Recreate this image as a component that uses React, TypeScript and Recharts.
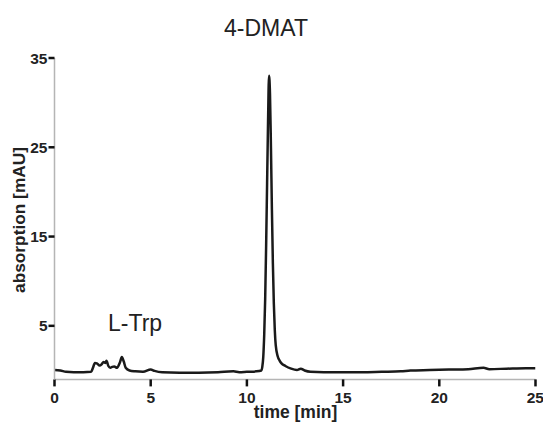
import { LineChart, Line, XAxis, YAxis } from 'recharts'

const FONT = '"Liberation Sans", Arial, sans-serif'

// retention time [min]
const times = [
  0, 0.3, 0.6, 1.0, 1.5, 1.9, 2.0, 2.1, 2.2, 2.35, 2.45, 2.55, 2.65, 2.7, 2.8, 2.9, 3.0, 3.1,
  3.25, 3.4, 3.5, 3.6, 3.7, 3.9, 4.2, 4.6, 5.0, 5.2, 5.6, 6.5, 7.5, 8.5, 9.3, 9.6, 10.0, 10.5,
  10.75, 10.8, 10.85, 10.9, 10.95, 11.0, 11.05, 11.1, 11.15, 11.2, 11.25, 11.3, 11.35, 11.4,
  11.45, 11.5, 11.6, 11.7, 11.8, 12.0, 12.3, 12.6, 12.8, 13.0, 13.3, 14, 15, 16, 17, 18, 18.5,
  19.5, 20.5, 21.5, 22.3, 22.6, 23.5, 24.5, 25,
]

// absorption [mAU]
const absorption = [
  0.05, 0.0, -0.15, -0.2, -0.2, -0.15, 0.3, 0.85, 0.8, 0.55, 0.7, 0.95, 0.85, 1.1, 0.5, 0.3, 0.4, 0.45,
  0.3, 0.9, 1.5, 1.0, 0.3, 0.0, -0.1, -0.15, 0.1, -0.05, -0.2, -0.25, -0.25, -0.2, -0.1, -0.2, -0.15, -0.1,
  0.0, 0.4, 1.5, 4, 8, 14, 21, 28, 33, 31, 25, 18, 12, 7.5,
  4.5, 2.8, 1.6, 1.1, 0.8, 0.5, 0.2, 0.05, 0.2, 0.0, -0.15, -0.2, -0.2, -0.2, -0.15, -0.1, 0.0,
  0.05, 0.1, 0.15, 0.3, 0.15, 0.2, 0.25, 0.25,
]

const xTicks = [0, 5, 10, 15, 20, 25]
const yTicks = [5, 15, 25, 35]

const data = times.map((t, i) => ({ t, v: absorption[i] }))

const tickStyle = { fontFamily: FONT, fontSize: 15.5, fontWeight: 700, fill: '#222' }

export default function App() {
  return (
    <div style={{ position: 'absolute', left: 0, top: 0, width: 543, height: 425, overflow: 'hidden', background: '#fff' }}>
      <LineChart
        width={543}
        height={425}
        data={data}
        margin={{ top: 58, right: 7.5, left: 0, bottom: 15.6 }}
      >
        <XAxis
          dataKey="t"
          type="number"
          domain={[0, 25]}
          ticks={xTicks}
          height={30}
          tick={tickStyle}
          tickSize={7}
          tickMargin={6}
          axisLine={{ stroke: '#b5b5b5', strokeWidth: 1.5 }}
          tickLine={{ stroke: '#111', strokeWidth: 2.5 }}
          allowDataOverflow
        />
        <YAxis
          type="number"
          domain={[-1, 35]}
          ticks={yTicks}
          width={54.5}
          tick={tickStyle}
          tickSize={6}
          tickMargin={1}
          axisLine={{ stroke: '#b5b5b5', strokeWidth: 1.5 }}
          tickLine={{ stroke: '#111', strokeWidth: 2.5 }}
          allowDataOverflow
        />
        <Line
          dataKey="v"
          type="monotone"
          stroke="#1a1a1a"
          strokeWidth={2.5}
          dot={false}
          isAnimationActive={false}
        />
      </LineChart>

      <div style={{ position: 'absolute', left: 166, width: 200, top: 15, textAlign: 'center', fontFamily: FONT, fontSize: 23, color: '#222' }}>
        4-DMAT
      </div>
      <div style={{ position: 'absolute', left: 108, top: 310, fontFamily: FONT, fontSize: 23, color: '#222' }}>
        L-Trp
      </div>
      <div
        style={{
          position: 'absolute',
          left: 19,
          top: 220,
          transform: 'translate(-50%, -50%) rotate(-90deg)',
          whiteSpace: 'nowrap',
          fontFamily: FONT,
          fontSize: 17.3,
          fontWeight: 700,
          color: '#222',
        }}
      >
        absorption [mAU]
      </div>
      <div style={{ position: 'absolute', left: 195.5, width: 200, top: 404, lineHeight: 1, textAlign: 'center', fontFamily: FONT, fontSize: 17.5, fontWeight: 700, color: '#222' }}>
        time [min]
      </div>
    </div>
  )
}
